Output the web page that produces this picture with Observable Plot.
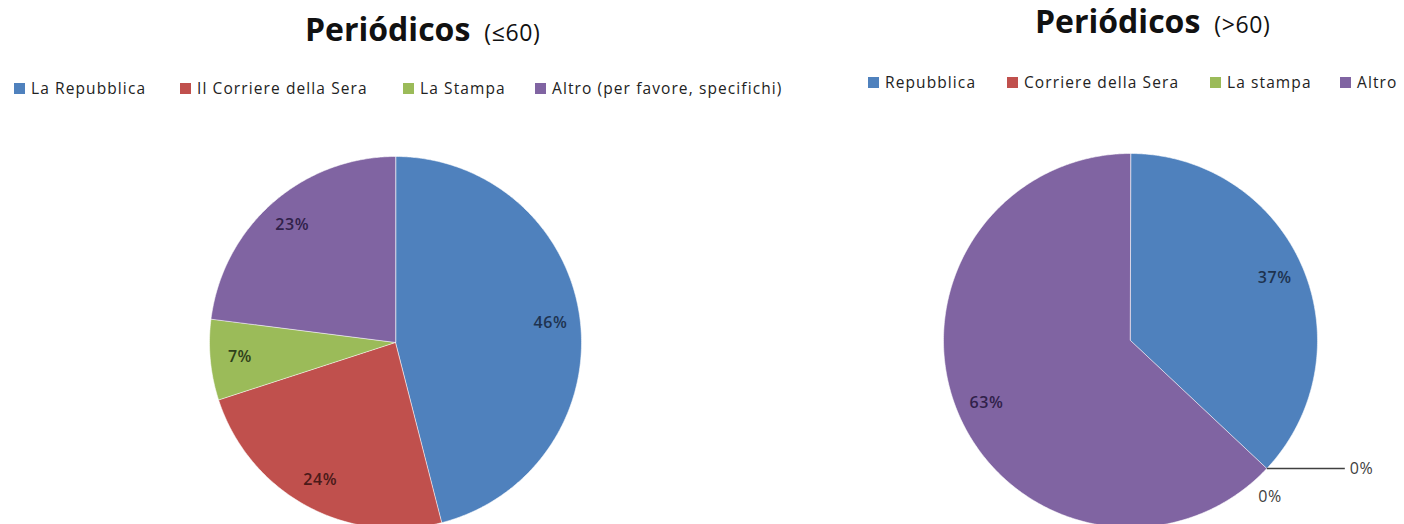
<!DOCTYPE html>
<html>
<head>
<meta charset="utf-8">
<script src="https://cdn.jsdelivr.net/npm/d3@7"></script>
<script src="https://cdn.jsdelivr.net/npm/@observablehq/plot@0.6"></script>
<style>
  html, body { margin: 0; padding: 0; background: #fff; }
  #wrap { position: relative; width: 1404px; height: 524px; overflow: hidden; background: #fff; font-family: "Open Sans", sans-serif; color: #000; }
  .title { position: absolute; white-space: nowrap; line-height: 1; font-size: 32px; font-weight: 700; color: #111; }
  .title .sub { font-size: 23px; font-weight: 400; margin-left: 14px; letter-spacing: 0.6px; }
  .legend-item { position: absolute; display: flex; align-items: center; white-space: nowrap; font-size: 15.5px; line-height: 20px; letter-spacing: 1.1px; color: #222; }
  .legend-item .sw { width: 11px; height: 11px; margin-right: 6px; }
  .pie { position: absolute; }
  .pie svg text { letter-spacing: 0.6px; }
</style>
</head>
<body>
<div id="wrap"></div>
<script>
// ---- data ----
const titleText = "Periódicos";
const subtitles = ["(≤60)", "(>60)"];
const catsA = ["La Repubblica", "Il Corriere della Sera", "La Stampa", "Altro (per favore, specifichi)"];
const valsA = [46, 24, 7, 23];
const catsB = ["Repubblica", "Corriere della Sera", "La stampa", "Altro"];
const valsB = [37, 0, 0, 63];
const colors = ["#4F81BD", "#C0504D", "#9BBB59", "#8064A2"];
const labelColors = ["#1E3350", "#4A1A19", "#2F401A", "#30214A"];

// ---- layout (pixel positions of legend items) ----
const legendLayoutA = {top: 78, lefts: [14, 180, 403, 535]};
const legendLayoutB = {top: 72, lefts: [868, 1007, 1210, 1340]};

const wrap = document.getElementById("wrap");

function addTitle(left, top, sub) {
  const d = document.createElement("div");
  d.className = "title";
  d.style.left = left + "px";
  d.style.top = top + "px";
  d.innerHTML = `<span>${titleText}</span><span class="sub">${sub}</span>`;
  wrap.appendChild(d);
}

function addLegend(cats, layout) {
  cats.forEach((c, i) => {
    const it = document.createElement("div");
    it.className = "legend-item";
    it.style.left = layout.lefts[i] + "px";
    it.style.top = layout.top + "px";
    it.innerHTML = `<span class="sw" style="background:${colors[i]}"></span><span>${c}</span>`;
    wrap.appendChild(it);
  });
}

function drawPie(cats, vals, cx, cy, R, w, h) {
  const arcs = d3.pie().sort(null).value(d => d)(vals);
  const pts = [];
  const labels = [];
  const zeros = [];
  arcs.forEach((a, i) => {
    if (a.value > 0) {
      const n = Math.max(2, Math.ceil((a.endAngle - a.startAngle) / 0.01));
      pts.push({x: 0, y: 0, k: cats[i]});
      for (let j = 0; j <= n; j++) {
        const t = a.startAngle + (a.endAngle - a.startAngle) * j / n;
        pts.push({x: Math.sin(t), y: -Math.cos(t), k: cats[i]});
      }
      const m = (a.startAngle + a.endAngle) / 2;
      labels.push({x: 0.84 * Math.sin(m), y: -0.84 * Math.cos(m), t: a.value + "%", c: labelColors[i]});
    } else {
      zeros.push(a.startAngle);
    }
  });
  const marks = [
    Plot.line(pts, {x: "x", y: "y", z: "k", fill: "k", stroke: "#ffffff", strokeWidth: 1, strokeOpacity: 0.55, curve: "linear-closed"})
  ];
  labels.forEach(l => {
    marks.push(Plot.text([l], {x: "x", y: "y", text: "t", fill: l.c, fontSize: 16, fontWeight: 600}));
  });
  zeros.forEach((a, zi) => {
    if (zi === 0) {
      const ex = Math.sin(a), ey = -Math.cos(a);
      const x2 = ex + 78 / R;
      marks.push(Plot.link([{x1: ex, y1: ey, x2: x2, y2: ey}], {x1: "x1", y1: "y1", x2: "x2", y2: "y2", stroke: "#404040", strokeWidth: 1.5}));
      marks.push(Plot.text([{x: x2 + 5 / R, y: ey, t: "0%"}], {x: "x", y: "y", text: "t", textAnchor: "start", fill: "#404040", fontSize: 16}));
    } else {
      const b = a + 5 * Math.PI / 180;
      marks.push(Plot.text([{x: 1.12 * Math.sin(b), y: -1.12 * Math.cos(b), t: "0%"}], {x: "x", y: "y", text: "t", fill: "#404040", fontSize: 16}));
    }
  });
  const svg = Plot.plot({
    width: w, height: h, margin: 0,
    x: {domain: [-w / 2 / R, w / 2 / R], range: [0, w], axis: null},
    y: {domain: [-h / 2 / R, h / 2 / R], range: [0, h], axis: null},
    color: {domain: cats, range: colors},
    style: {fontFamily: "'Open Sans', sans-serif", background: "transparent", overflow: "visible"},
    marks
  });
  const holder = document.createElement("div");
  holder.className = "pie";
  holder.style.left = (cx - w / 2) + "px";
  holder.style.top = (cy - h / 2) + "px";
  holder.appendChild(svg);
  wrap.appendChild(holder);
}

addTitle(305, 12.6, subtitles[0]);
addTitle(1035, 4.6, subtitles[1]);
addLegend(catsA, legendLayoutA);
addLegend(catsB, legendLayoutB);
drawPie(catsA, valsA, 395, 342, 186, 400, 380);
drawPie(catsB, valsB, 1130, 340, 187, 540, 380);
</script>
</body>
</html>
